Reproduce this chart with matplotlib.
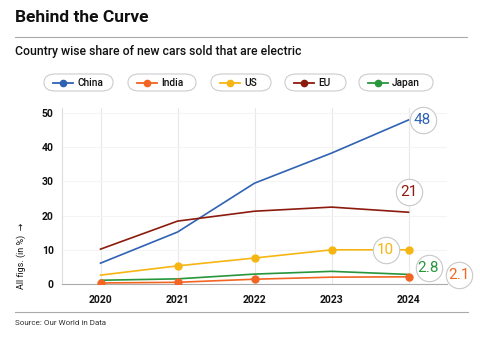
import matplotlib
matplotlib.use("Agg")
import matplotlib.pyplot as plt
from matplotlib.patches import FancyBboxPatch
from matplotlib.lines import Line2D
from matplotlib.transforms import offset_copy

plt.rcParams['font.family'] = ['Roboto', 'DejaVu Sans']

# data
years = [2020, 2021, 2022, 2023, 2024]
countries = ['China', 'India', 'US', 'EU', 'Japan']
china = [6.1, 15.2, 29.5, 38.3, 48]
india = [0.3, 0.5, 1.4, 2.0, 2.1]
us = [2.6, 5.3, 7.6, 10, 10]
eu = [10.2, 18.4, 21.3, 22.5, 21]
japan = [1.1, 1.5, 2.9, 3.7, 2.8]
end_labels = ['48', '2.1', '10', '21', '2.8']

series = [china, india, us, eu, japan]
colors = ['#2f62b3', '#f26522', '#f7b512', '#8c1b0e', '#27963c']
# which points carry a dot
marks = [[], [0, 1, 2, 4], [1, 2, 3, 4], [], []]
# label bubble offsets (pixels) from last point
lab_off = [(14, 0), (50, 2), (-23, 0), (0, 20), (20, 6)]

W, H = 480, 344
fig = plt.figure(figsize=(4.8, 3.44), dpi=100)
fig.patch.set_facecolor('white')

def fx(px):
    return px / W

def fy(py):
    return 1 - py / H

# header
fig.text(fx(15), fy(18), 'Behind the Curve', fontsize=12.5, fontweight='bold',
         va='center', ha='left', color='#111111')
fig.add_artist(Line2D([fx(15), fx(467)], [fy(37), fy(37)], color='#aaaaaa', lw=0.8))
fig.text(fx(15), fy(51), 'Country wise share of new cars sold that are electric',
         fontsize=8.8, fontweight='medium', va='center', ha='left', color='#111111')

# legend pills
pill_x = [44, 128, 211, 285, 359]
pill_w = [69, 68, 60, 61, 74]
pill_y, pill_h = 74, 17
for i, name in enumerate(countries):
    x0 = pill_x[i]
    box = FancyBboxPatch((fx(x0), fy(pill_y + pill_h)), fx(pill_w[i]), pill_h / H,
                         boxstyle='round,pad=0,rounding_size=0.024',
                         transform=fig.transFigure, facecolor='white',
                         edgecolor='#cccccc', lw=0.8)
    fig.add_artist(box)
    cy = fy(pill_y + pill_h / 2)
    fig.add_artist(Line2D([fx(x0 + 9), fx(x0 + 19), fx(x0 + 29)], [cy, cy, cy],
                          color=colors[i], lw=1.3, marker='o', markevery=[1], ms=4.5))
    fig.text(fx(x0 + 33), cy, name, fontsize=7.3, fontweight='medium', va='center',
             ha='left', color='#111111')

# axes
ax = fig.add_axes([fx(62), fy(284), fx(447 - 62), (284 - 108) / H])
for i, s in enumerate(series):
    ax.plot(years, s, color=colors[i], lw=1.2, zorder=3)
    if marks[i]:
        ax.plot([years[j] for j in marks[i]], [s[j] for j in marks[i]], 'o',
                color=colors[i], ms=5, zorder=4)

for i, s in enumerate(series):
    dx, dy = lab_off[i]
    tr = offset_copy(ax.transData, fig=fig, x=dx, y=dy, units='dots')
    ax.plot([years[-1]], [s[-1]], 'o', ms=19, mfc='white', mec='#c8c8c8', mew=0.8,
            transform=tr, clip_on=False, zorder=5)
    ax.text(years[-1], s[-1], end_labels[i], transform=tr, ha='center', va='center',
            fontsize=11, fontweight='normal', color=colors[i], zorder=6, clip_on=False)

ax.set_xlim(2019.5, 2024.5)
ax.set_ylim(0, 51.5)
ax.set_xticks(years)
ax.set_yticks([0, 10, 20, 30, 40, 50])
ax.tick_params(length=0, labelsize=7.5, pad=8, colors='#111111')
for lab in ax.get_xticklabels() + ax.get_yticklabels():
    lab.set_fontweight('bold')
ax.tick_params(axis='y', pad=6)
ax.grid(axis='x', color='#e8e8e8', lw=0.8)
ax.grid(axis='y', color='#f4f4f4', lw=0.8)
ax.set_axisbelow(True)
for side in ['top', 'right']:
    ax.spines[side].set_visible(False)
ax.spines['left'].set_color('#dddddd')
ax.spines['bottom'].set_color('#aaaaaa')
ax.spines['left'].set_linewidth(0.8)
ax.spines['bottom'].set_linewidth(0.8)

fig.text(fx(21), fy(256), 'All figs. (in %)  \u2192', rotation=90, fontsize=6.5,
         va='center', ha='center', color='#111111')

# footer
fig.add_artist(Line2D([fx(15), fx(468)], [fy(312), fy(312)], color='#aaaaaa', lw=0.8))
fig.text(fx(15), fy(323), 'Source: Our World in Data', fontsize=5.8, va='center',
         ha='left', color='#333333')

fig.savefig('out.png', dpi=100, facecolor='white')
